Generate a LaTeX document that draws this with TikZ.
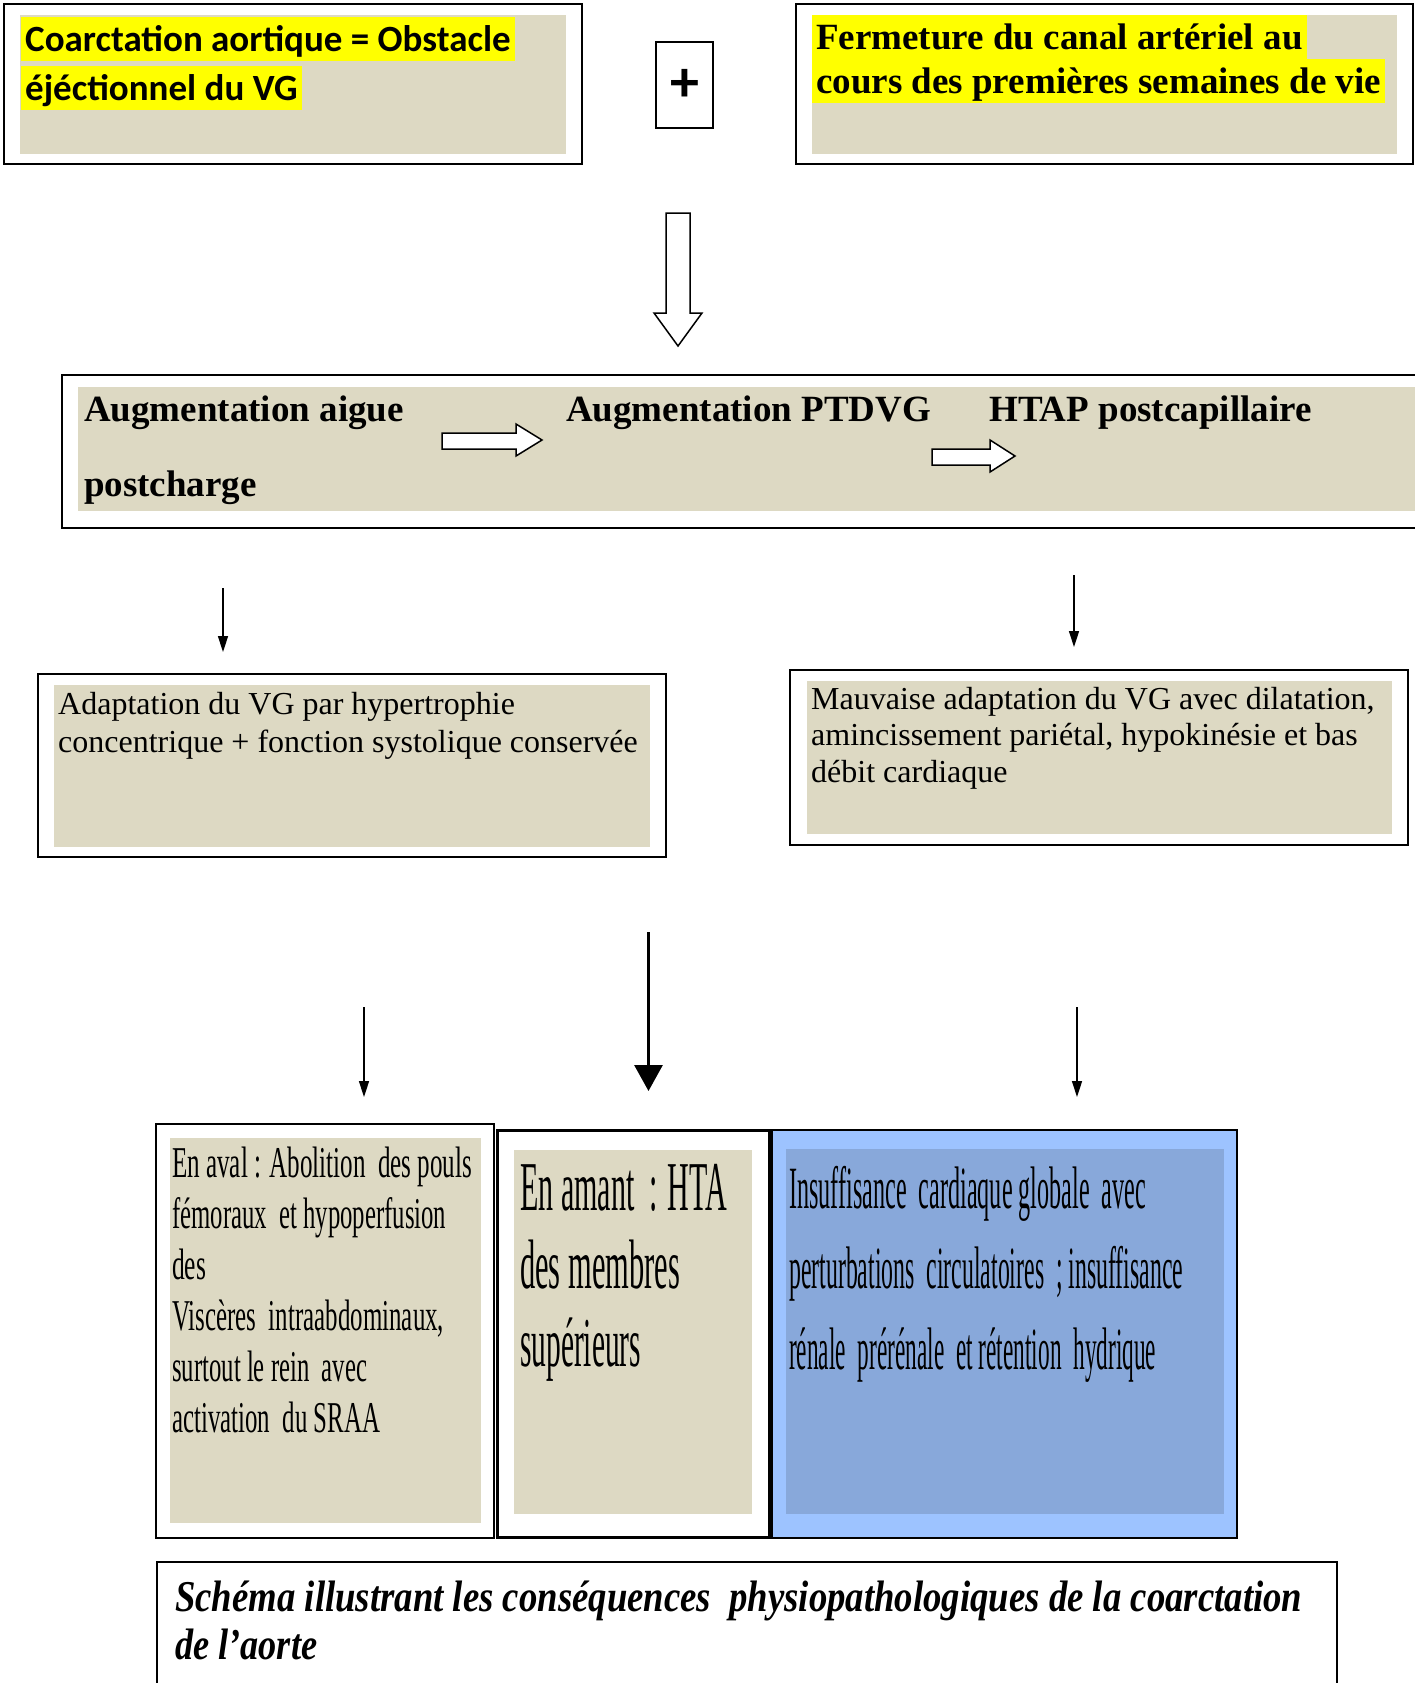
\documentclass[tikz,border=0pt]{standalone}
\usepackage{fontspec}
\setmainfont{Liberation Serif}
\newfontfamily\calibri{Carlito}
\usepackage{graphicx}
\usetikzlibrary{arrows.meta}

\definecolor{sand}{HTML}{DDD9C3}
\definecolor{hilite}{HTML}{FFFF00}
\definecolor{skyblue}{HTML}{9DC3FF}
\definecolor{steelblue}{HTML}{88A8DA}

\newcommand{\fitw}[2]{\resizebox{#1}{\height}{#2}}

\begin{document}
\begin{tikzpicture}[x=1pt,y=-1pt,
  frame/.style={draw,line width=2pt,inner sep=0pt},
  line/.style={anchor=base west,inner sep=0pt},
  hl/.style={anchor=base west,fill=hilite,inner xsep=4pt,inner ysep=0pt,
    text height=35pt,text depth=9pt},
  bigbold/.style={font=\bfseries\fontsize{37}{44}\selectfont},
  plain/.style={font=\fontsize{32}{38}\selectfont},
  thinarrow/.style={-{Triangle[width=10pt,length=16pt]},line width=1.5pt},
  fatarrow/.style={-{Triangle[width=28pt,length=26pt]},line width=3pt},
  hollow/.style={draw,line width=1.5pt,fill=white}]
  \useasboundingbox (0,0) rectangle (1414,1683);

  % top row
  \node[frame,minimum width=578pt,minimum height=160pt] (coarc) at (293,84) {};
  \fill[sand] (20,15) rectangle (566,154);
  \node[hl,font=\calibri\bfseries\fontsize{37}{44}\selectfont] (coarc1) at (21,52) {Coarctation aortique = Obstacle};
  \node[hl,font=\calibri\bfseries\fontsize{37}{44}\selectfont] (coarc2) at (21,101) {éjéctionnel du VG};

  \node[frame,minimum width=57pt,minimum height=86pt,
    font=\calibri\bfseries\fontsize{58}{60}\selectfont] (plus) at (684.5,85) {+};

  \node[frame,minimum width=617pt,minimum height=160pt] (ferm) at (1104.5,84) {};
  \fill[sand] (812,15) rectangle (1397,154);
  \node[hl,bigbold] (ferm1) at (812,50) {Fermeture du canal artériel au};
  \node[hl,bigbold] (ferm2) at (812,94) {cours des premières semaines de vie};

  \draw[hollow] (666,213) -- (690,213) -- (690,313) -- (702,313) -- (678,346)
    -- (654,313) -- (666,313) -- cycle;

  % second row
  \node[frame,minimum width=1358pt,minimum height=153pt] (augm) at (741,451.5) {};
  \fill[sand] (78,387) rectangle (1420,511);
  \node[line,bigbold] (augm1) at (84,421) {Augmentation aigue};
  \node[line,bigbold] (augm2) at (84,496) {postcharge};
  \node[line,bigbold] (ptdvg) at (566,421) {Augmentation PTDVG};
  \node[line,bigbold] (htap) at (989,421) {HTAP postcapillaire};
  \draw[hollow] (442,433) -- (516,433) -- (516,424) -- (542,440) -- (516,456)
    -- (516,449) -- (442,449) -- cycle;
  \draw[hollow] (932,449) -- (990,449) -- (990,440) -- (1015,456) -- (990,472)
    -- (990,465) -- (932,465) -- cycle;

  \coordinate (d1) at (223,588);
  \coordinate (d1e) at (223,652);
  \coordinate (d2) at (1074,575);
  \coordinate (d2e) at (1074,647);
  \draw[thinarrow] (d1) -- (d1e);
  \draw[thinarrow] (d2) -- (d2e);

  % third row
  \node[frame,minimum width=628pt,minimum height=183pt] (adapt) at (352,765.5) {};
  \fill[sand] (54,685) rectangle (650,847);
  \node[line,plain] (adapt1) at (58,714) {Adaptation du VG par hypertrophie};
  \node[line,plain] (adapt2) at (58,752) {concentrique + fonction systolique conservée};

  \node[frame,minimum width=618pt,minimum height=175pt] (mauv) at (1099,757.5) {};
  \fill[sand] (807,681) rectangle (1392,834);
  \node[line,plain] (mauv1) at (811,709) {Mauvaise adaptation du VG avec dilatation,};
  \node[line,plain] (mauv2) at (811,745) {amincissement pariétal, hypokinésie et bas};
  \node[line,plain] (mauv3) at (811,782) {débit cardiaque};

  \coordinate (e1) at (364,1007);
  \coordinate (e1e) at (364,1097);
  \coordinate (e2) at (648.5,932);
  \coordinate (e2e) at (648.5,1091);
  \coordinate (e3) at (1077,1007);
  \coordinate (e3e) at (1077,1097);
  \draw[thinarrow] (e1) -- (e1e);
  \draw[fatarrow] (e2) -- (e2e);
  \draw[thinarrow] (e3) -- (e3e);

  % bottom row
  \node[frame,minimum width=338pt,minimum height=414pt] (aval) at (325,1331) {};
  \fill[sand] (170,1138) rectangle (481,1523);
  \foreach \w/\txt [count=\i from 0] in {300/{En aval : Abolition\ \ des pouls},
      274/{fémoraux\ \ et hypoperfusion}, 34/{des},
      272/{Viscères\ \ intraabdominaux,}, 195/{surtout le rein\ \ avec},
      208/{activation\ \ du SRAA}}
    \node[line,font=\fontsize{44}{48}\selectfont] (aval\i) at (172,{1177+\i*51})
      {\fitw{\w pt}{\txt}};

  \node[frame,line width=3pt,minimum width=272pt,minimum height=407pt] (amont) at (633,1333.5) {};
  \fill[sand] (514,1150) rectangle (752,1514);
  \foreach \w/\txt [count=\i from 0] in {207/{En amant\ \ : HTA},
      160/{des membres}, 121/{supérieurs}}
    \node[line,font=\fontsize{70}{74}\selectfont] (amont\i) at (520,{1210+\i*78})
      {\fitw{\w pt}{\txt}};

  \node[frame,fill=skyblue,minimum width=465pt,minimum height=408pt] (icg) at (1004.5,1334) {};
  \fill[steelblue] (786,1149) rectangle (1224,1514);
  \foreach \w/\txt [count=\i from 0] in {357/{Insuffisance\ \ cardiaque globale\ \ avec},
      394/{perturbations\ \ circulatoires\ \ ; insuffisance},
      367/{rénale\ \ prérénale\ \ et rétention\ \ hydrique}}
    \node[line,font=\fontsize{60}{64}\selectfont] (icg\i) at (789,{1208+\i*80.5})
      {\fitw{\w pt}{\txt}};

  % caption
  \node[frame,minimum width=1180pt,minimum height=138pt] (legende) at (747,1631) {};
  \node[line,font=\bfseries\itshape\fontsize{44}{48}\selectfont] (legende1) at (175,1611)
    {\fitw{1127pt}{Schéma illustrant les conséquences\ \ physiopathologiques de la coarctation}};
  \node[line,font=\bfseries\itshape\fontsize{44}{48}\selectfont] (legende2) at (175,1659)
    {\fitw{142pt}{de l’aorte}};
\end{tikzpicture}
\end{document}
